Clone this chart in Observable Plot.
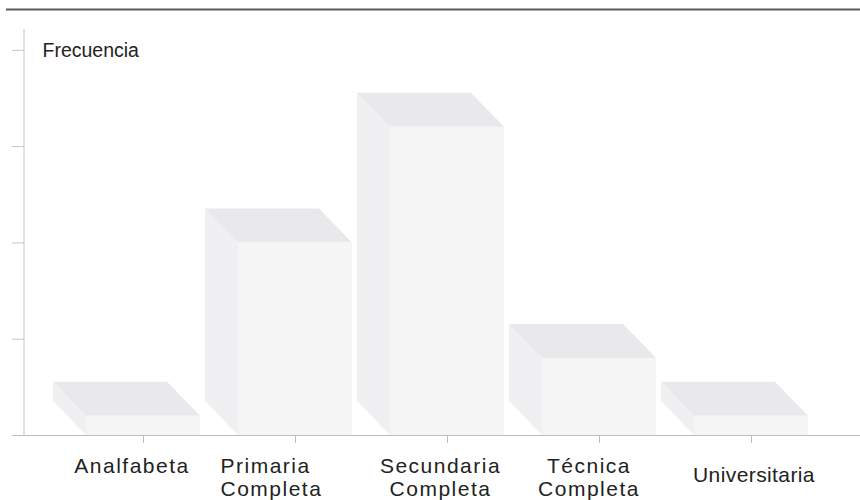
<!DOCTYPE html>
<html>
<head>
<meta charset="utf-8">
<script src="https://cdn.jsdelivr.net/npm/d3@7"></script>
<script src="https://cdn.jsdelivr.net/npm/@observablehq/plot@0.6"></script>
<style>
  html, body { margin: 0; padding: 0; background: #fff; }
  #chart svg { display: block; }
</style>
</head>
<body>
<div id="chart"></div>
<script>
// ---- data ----
const categories = ["Analfabeta", "Primaria Completa", "Secundaria Completa", "Técnica Completa", "Universitaria"];
const frequencies = [1, 10, 16, 4, 1];
const labelLines = ["Analfabeta", "Primaria\nCompleta", "Secundaria\nCompleta", "Técnica\nCompleta", "Universitaria"];
const yTicks = [5, 10, 15, 20];
const yMax = 22.12;
const axisTop = 21.08;
const yTitle = "Frecuencia";

const data = categories.map((c, i) => ({cat: c, value: frequencies[i], label: labelLines[i]}));

// ---- style ----
const FRONT = "#f5f5f6", TOP = "#e9e9eb", SIDE = "#f0f0f2";
const DEPTH_X = 33, DEPTH_Y = 34;
const FONT = "'Liberation Sans', Arial, sans-serif";

// 3D top and side faces drawn through the plot's scales
function faces(index, scales) {
  const x = scales.x, y = scales.y;
  const bw = x.bandwidth();
  const g = d3.create("svg:g");
  const y0 = y(0);
  for (const d of data) {
    const x0 = x(d.cat), x1 = x0 + bw, yt = y(d.value);
    g.append("path")
      .attr("fill", SIDE)
      .attr("d", `M${x0 - DEPTH_X},${yt - DEPTH_Y}L${x0},${yt}L${x0},${y0}L${x0 - DEPTH_X},${y0 - DEPTH_Y}Z`);
    g.append("path")
      .attr("fill", TOP)
      .attr("d", `M${x0 - DEPTH_X},${yt - DEPTH_Y}L${x1 - DEPTH_X},${yt - DEPTH_Y}L${x1},${yt}L${x0},${yt}Z`);
  }
  // vertical y axis line
  g.append("line")
    .attr("x1", 24).attr("x2", 24)
    .attr("y1", y(axisTop)).attr("y2", y0)
    .attr("stroke", "#c4c4c4");
  return g.node();
}

const labelDx = {"Analfabeta": -11.5, "Primaria Completa": -75, "Secundaria Completa": -7, "Técnica Completa": -10.5, "Universitaria": 2.5};
const labelDy = {"Analfabeta": 21, "Primaria Completa": 21, "Secundaria Completa": 21, "Técnica Completa": 21, "Universitaria": 30};

const labelMarks = categories.map(c => Plot.text(data, {
  filter: d => d.cat === c,
  x: "cat",
  frameAnchor: "bottom",
  text: "label",
  lineAnchor: "top",
  textAnchor: c === "Primaria Completa" ? "start" : "middle",
  dx: labelDx[c],
  dy: labelDy[c],
  lineHeight: 1.1,
  fontSize: 21,
  fontFamily: FONT,
  fill: "#222"
}));

const chart = Plot.plot({
  width: 860,
  height: 500,
  marginLeft: 47.5,
  marginRight: 14.5,
  marginTop: 9,
  marginBottom: 65,
  x: {domain: categories, padding: 0.25},
  y: {domain: [0, yMax]},
  style: {background: "#fff", fontFamily: FONT},
  marks: [
    faces,
    Plot.barY(data, {x: "cat", y: "value", fill: FRONT}),
    Plot.ruleY([0], {stroke: "#bdbdbd", insetLeft: -35.5, insetRight: -14.5}),
    Plot.ruleY([yMax], {stroke: "#5a5a5a", strokeWidth: 2, insetLeft: -41.5, insetRight: -14.5}),
    Plot.axisY({ticks: yTicks, tickSize: 12, tickFormat: () => "", dx: -23.5, stroke: "#c4c4c4", label: null}),
    Plot.axisX({tickSize: 8, tickFormat: () => "", stroke: "#bdbdbd", label: null}),
    ...labelMarks,
    Plot.text([yTitle], {frameAnchor: "top-left", textAnchor: "start", lineAnchor: "top", dx: -5.5, dy: 34, fontSize: 19.5, fontFamily: FONT, fill: "#222"})
  ]
});

// wide letter spacing on category labels (as in the reference)
const labelWords = new Set(labelLines.flatMap(l => l.split("\n")));
d3.select(chart).selectAll("text").each(function() {
  const el = d3.select(this);
  const t = this.textContent;
  if (t === yTitle) return;
  const lines = this.querySelectorAll("tspan").length ? Array.from(this.querySelectorAll("tspan")).map(s => s.textContent) : [t];
  if (lines.every(s => labelWords.has(s))) {
    el.style("letter-spacing", t === "Universitaria" ? "0.4px" : "1.5px");
  }
});

document.getElementById("chart").appendChild(chart);
</script>
</body>
</html>
